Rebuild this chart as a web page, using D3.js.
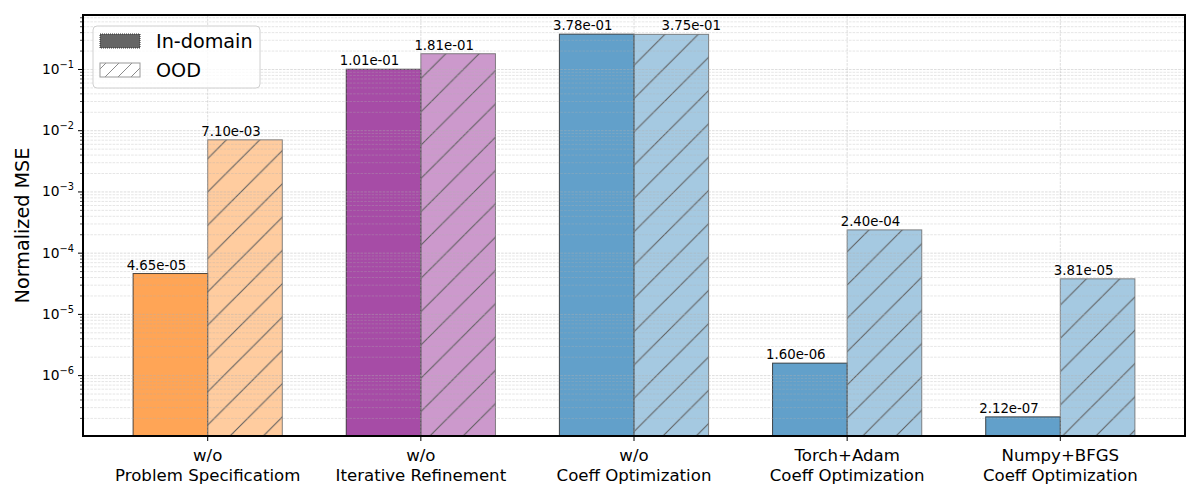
<!DOCTYPE html>
<html>
<head>
<meta charset="utf-8">
<script src="https://cdn.jsdelivr.net/npm/d3@7"></script>
<style>
  body { margin: 0; background: white; }
  text { font-family: "DejaVu Sans", sans-serif; }
</style>
</head>
<body>
<svg id="svg-main" width="1200" height="500"></svg>
<script>
// chart data
var categories = [
    ["w/o", "Problem Specificatiom"],
    ["w/o", "Iterative Refinement"],
    ["w/o", "Coeff Optimization"],
    ["Torch+Adam", "Coeff Optimization"],
    ["Numpy+BFGS", "Coeff Optimization"]
];
var inDomain = [4.65e-05, 1.01e-01, 3.78e-01, 1.60e-06, 2.12e-07];
var ood = [7.10e-03, 1.81e-01, 3.75e-01, 2.40e-04, 3.81e-05];
var baseColors = ["#ff7f0e", "#800080", "#1f77b4", "#1f77b4", "#1f77b4"];
var seriesNames = ["In-domain", "OOD"];

// plot box (window.top is reserved, so prefixed names)
var pLeft = 83, pRight = 1185, pTop = 15, pBottom = 436;
var barW = 0.35;
var svg = d3.select("#svg-main");

// x: linear index scale with matplotlib's 5% margins
var xPad = (categories.length - 1 + 2 * barW) * 0.05;
var x = d3.scaleLinear()
    .domain([-barW - xPad, categories.length - 1 + barW + xPad])
    .range([pLeft, pRight]);

// y: log scale, 5% margin in log space
var allVals = inDomain.concat(ood);
var lo = Math.log10(d3.min(allVals)), hi = Math.log10(d3.max(allVals));
var m = (hi - lo) * 0.05;
var y = d3.scaleLog()
    .domain([Math.pow(10, lo - m), Math.pow(10, hi + m)])
    .range([pBottom, pTop]);

var defs = svg.append("defs");
defs.append("clipPath").attr("id", "plot-clip")
    .append("rect")
    .attr("x", pLeft).attr("y", pTop)
    .attr("width", pRight - pLeft).attr("height", pBottom - pTop);

function makeHatch(id, s, bg, bgOpacity, lineColor) {
    var p = defs.append("pattern")
        .attr("id", id)
        .attr("patternUnits", "userSpaceOnUse")
        .attr("width", s).attr("height", s);
    p.append("rect").attr("width", s).attr("height", s)
        .attr("fill", bg).attr("fill-opacity", bgOpacity);
    [[0, s, s, 0], [-s / 2, s / 2, s / 2, -s / 2], [s / 2, s * 1.5, s * 1.5, s / 2]].forEach(function(l) {
        p.append("line")
            .attr("x1", l[0]).attr("y1", l[1]).attr("x2", l[2]).attr("y2", l[3])
            .attr("stroke", lineColor).attr("stroke-width", 1);
    });
}
baseColors.forEach(function(c, i) {
    makeHatch("hatch-" + i, 33.3, c, 0.4, "#5c5c5c");
});
makeHatch("hatch-legend", 13, "#ffffff", 1, "#8a8a8a");

var plot = svg.append("g").attr("clip-path", "url(#plot-clip)");

// in-domain bars
plot.selectAll(".bar-in")
    .data(inDomain)
    .enter()
    .append("rect")
    .attr("class", "bar-in")
    .attr("x", function(d, i) { return x(i - barW); })
    .attr("y", function(d) { return y(d); })
    .attr("width", function(d, i) { return x(i) - x(i - barW); })
    .attr("height", function(d) { return pBottom - y(d); })
    .attr("fill", function(d, i) { return baseColors[i]; })
    .attr("fill-opacity", 0.7)
    .attr("stroke", "#222")
    .attr("stroke-opacity", 0.8)
    .attr("stroke-width", 1);

// ood bars, hatched
plot.selectAll(".bar-ood")
    .data(ood)
    .enter()
    .append("rect")
    .attr("class", "bar-ood")
    .attr("x", function(d, i) { return x(i); })
    .attr("y", function(d) { return y(d); })
    .attr("width", function(d, i) { return x(i + barW) - x(i); })
    .attr("height", function(d) { return pBottom - y(d); })
    .attr("fill", function(d, i) { return "url(#hatch-" + i + ")"; })
    .attr("stroke", "#666")
    .attr("stroke-opacity", 0.8)
    .attr("stroke-width", 1);

// grid, drawn on top of bars like the reference
var decades = d3.range(-7, 1);
var minors = [];
decades.forEach(function(e) {
    for (var k = 2; k <= 9; k++) minors.push(k * Math.pow(10, e));
});
var majors = decades.map(function(e) { return Math.pow(10, e); });
var yDom = y.domain();
function inRange(v) { return v >= yDom[0] && v <= yDom[1]; }
majors = majors.filter(inRange);
minors = minors.filter(inRange);

var grid = svg.append("g");
grid.selectAll(".gmin").data(minors).enter().append("line")
    .attr("x1", pLeft).attr("x2", pRight)
    .attr("y1", function(d) { return y(d); }).attr("y2", function(d) { return y(d); })
    .attr("stroke", "#b0b0b0").attr("stroke-opacity", 0.45)
    .attr("stroke-width", 0.7).attr("stroke-dasharray", "2.6,1.1");
grid.selectAll(".gmaj").data(majors).enter().append("line")
    .attr("x1", pLeft).attr("x2", pRight)
    .attr("y1", function(d) { return y(d); }).attr("y2", function(d) { return y(d); })
    .attr("stroke", "#b0b0b0").attr("stroke-opacity", 0.55)
    .attr("stroke-width", 0.8).attr("stroke-dasharray", "2.6,1.1");
grid.selectAll(".gx").data(categories).enter().append("line")
    .attr("x1", function(d, i) { return x(i); }).attr("x2", function(d, i) { return x(i); })
    .attr("y1", pTop).attr("y2", pBottom)
    .attr("stroke", "#b0b0b0").attr("stroke-opacity", 0.55)
    .attr("stroke-width", 0.8).attr("stroke-dasharray", "2.6,1.1");

// value labels: sit a bit left of bar centre; ood label is pushed right
// when it would collide with the in-domain one at the same height
function fmt(d) { return d.toExponential(2).replace(/e([+-])(\d)$/, "e$10$2"); }
function valueLabel(vals, off, isOod) {
    svg.selectAll(null)
        .data(vals)
        .enter()
        .append("text")
        .attr("x", function(d, i) {
            var shift = -14;
            if (isOod && Math.abs(y(d) - y(inDomain[i])) < 12) shift = 20;
            return x(i + off) + shift;
        })
        .attr("y", function(d) { return y(d) - 4; })
        .attr("text-anchor", "middle")
        .style("font-size", "13.3px")
        .attr("fill", "black")
        .text(fmt);
}
valueLabel(inDomain, -barW / 2, false);
valueLabel(ood, barW / 2, true);

// y axis ticks
var yAxis = svg.append("g");
yAxis.selectAll(".tmin").data(minors).enter().append("line")
    .attr("x1", pLeft - 3).attr("x2", pLeft)
    .attr("y1", function(d) { return y(d); }).attr("y2", function(d) { return y(d); })
    .attr("stroke", "black").attr("stroke-width", 0.7);
yAxis.selectAll(".tmaj").data(majors).enter().append("line")
    .attr("x1", pLeft - 5).attr("x2", pLeft)
    .attr("y1", function(d) { return y(d); }).attr("y2", function(d) { return y(d); })
    .attr("stroke", "black").attr("stroke-width", 1);
var yLab = yAxis.selectAll(".tlab").data(majors).enter().append("text")
    .attr("x", pLeft - 9)
    .attr("y", function(d) { return y(d) + 4.5; })
    .attr("text-anchor", "end")
    .style("font-size", "13.8px")
    .attr("fill", "black");
yLab.append("tspan").text("10");
yLab.append("tspan")
    .attr("dy", -6)
    .style("font-size", "9.8px")
    .text(function(d) { return "\u2212" + Math.round(-Math.log10(d)); });

// x axis ticks and two-line labels
var xAxis = svg.append("g");
xAxis.selectAll(".xt").data(categories).enter().append("line")
    .attr("x1", function(d, i) { return x(i); }).attr("x2", function(d, i) { return x(i); })
    .attr("y1", pBottom).attr("y2", pBottom + 5)
    .attr("stroke", "black").attr("stroke-width", 1);
var xLab = xAxis.selectAll(".xl").data(categories).enter().append("text")
    .attr("text-anchor", "middle")
    .style("font-size", "16.6px")
    .attr("fill", "black");
xLab.each(function(d, i) {
    var t = d3.select(this);
    d.forEach(function(line, j) {
        t.append("tspan")
            .attr("x", x(i))
            .attr("y", 461 + j * 20)
            .text(line);
    });
});

// y label
svg.append("text")
    .attr("transform", "translate(29," + ((pTop + pBottom) / 2) + ") rotate(-90)")
    .attr("text-anchor", "middle")
    .style("font-size", "19.2px")
    .attr("fill", "black")
    .text("Normalized MSE");

// frame
svg.append("rect")
    .attr("x", pLeft).attr("y", pTop)
    .attr("width", pRight - pLeft).attr("height", pBottom - pTop)
    .attr("fill", "none")
    .attr("stroke", "black")
    .attr("stroke-width", 2);

// legend
var lg = svg.append("g");
lg.append("rect")
    .attr("x", 93).attr("y", 26).attr("width", 167).attr("height", 62)
    .attr("rx", 4)
    .attr("fill", "white").attr("fill-opacity", 0.8)
    .attr("stroke", "#d0d0d0").attr("stroke-width", 1);
lg.append("rect")
    .attr("x", 100).attr("y", 34).attr("width", 40).attr("height", 14)
    .attr("fill", "#666").attr("stroke", "#333").attr("stroke-width", 1)
    .attr("stroke-dasharray", "1,1");
lg.append("rect")
    .attr("x", 100).attr("y", 63).attr("width", 40).attr("height", 14)
    .attr("fill", "url(#hatch-legend)").attr("stroke", "#999").attr("stroke-width", 1);
lg.selectAll(".ltext").data(seriesNames).enter().append("text")
    .attr("x", 156)
    .attr("y", function(d, i) { return 48 + i * 29; })
    .style("font-size", "19.2px")
    .attr("fill", "black")
    .text(function(d) { return d; });
</script>
</body>
</html>
